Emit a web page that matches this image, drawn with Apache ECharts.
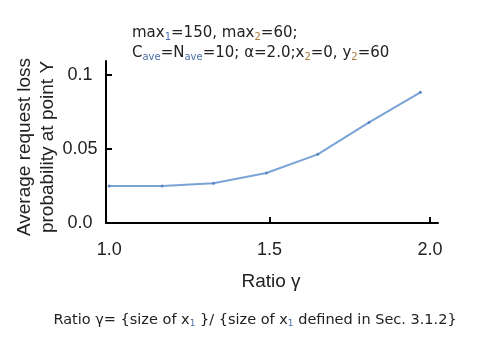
<!DOCTYPE html>
<html><head><meta charset="utf-8">
<script src="https://cdn.jsdelivr.net/npm/echarts@6/dist/echarts.min.js"></script>
<style>html,body{margin:0;padding:0;background:#fff}#c{width:490px;height:344px}</style>
</head><body><div id="c"></div>
<script>
const ratioX = [1.0, 1.165, 1.325, 1.49, 1.65, 1.81, 1.97];
const lossY = [0.025, 0.025, 0.0268, 0.0338, 0.0464, 0.068, 0.0883];
const xTicks = [1.0, 1.5, 2.0];
const yTicks = [0, 0.05, 0.1];
const yTickLabels = {0: '0.0', 0.05: '0.05', 0.1: '0.1'};

const chart = echarts.init(document.getElementById('c'), null, {renderer: 'canvas'});
const sansFont = '"Liberation Sans", Arial, sans-serif';
const wideFont = '"DejaVu Sans", sans-serif';
const subRich = {
  s: {fontSize: 10, fontFamily: wideFont, fill: '#4a6fa5', padding: [8, 0, 0, 0]},
  o: {fontSize: 10, fontFamily: wideFont, fill: '#b07a3a', padding: [8, 0, 0, 0]}
};
chart.setOption({
  animation: false,
  backgroundColor: '#fff',
  grid: {left: 106, top: 61, right: 52, bottom: 121},
  graphic: [
    {type: 'text', x: 132, y: 33, style: {
      fontSize: 15, fontFamily: wideFont, fill: '#222', textVerticalAlign: 'middle',
      rich: subRich,
      text: 'max{s|1}=150, max{o|2}=60;'
    }},
    {type: 'text', x: 132, y: 53, style: {
      fontSize: 15, fontFamily: wideFont, fill: '#222', textVerticalAlign: 'middle',
      rich: subRich,
      text: 'C{s|ave}=N{s|ave}=10; α=2.0;x{o|2}=0, y{o|2}=60'
    }},
    {type: 'text', x: 255, y: 320, style: {
      fontSize: 14.5, fontFamily: wideFont, fill: '#222', textAlign: 'center', textVerticalAlign: 'middle',
      rich: {s: {fontSize: 9, fontFamily: wideFont, fill: '#4a6fa5', padding: [8, 0, 0, 0]}},
      text: 'Ratio γ= {size of x{s|1} }/ {size of x{s|1} defined in Sec. 3.1.2}'
    }},
    {type: 'text', x: 271, y: 282, style: {
      text: 'Ratio γ', fontSize: 19, fontFamily: sansFont, fill: '#222', textAlign: 'center', textVerticalAlign: 'middle'
    }},
    {type: 'text', x: 36, y: 147, rotation: Math.PI / 2, style: {
      text: 'Average request loss\nprobability at point Y', fontSize: 19, lineHeight: 23,
      fontFamily: sansFont, fill: '#222', textAlign: 'center', textVerticalAlign: 'middle'
    }}
  ],
  xAxis: {
    type: 'value', min: 0.99, max: 2.025,
    axisLine: {lineStyle: {color: '#000', width: 2}},
    axisTick: {show: true, inside: true, length: 6, lineStyle: {color: '#000', width: 2}, customValues: [1.5, 2.0]},
    axisLabel: {customValues: xTicks, margin: 18, fontSize: 18, fontFamily: sansFont, color: '#222',
      formatter: v => v.toFixed(1)},
    splitLine: {show: false}
  },
  yAxis: {
    type: 'value', min: 0, max: 0.1095,
    axisLine: {show: true, lineStyle: {color: '#000', width: 2}},
    axisTick: {show: true, inside: true, length: 6, lineStyle: {color: '#000', width: 2}, customValues: [0.05, 0.1]},
    axisLabel: {customValues: yTicks, margin: 26, align: 'center', fontSize: 18, fontFamily: sansFont, color: '#222',
      padding: [4, 0, 0, 0],
      formatter: v => yTickLabels[v] !== undefined ? yTickLabels[v] : String(v)},
    splitLine: {show: false}
  },
  series: [{
    type: 'line',
    data: ratioX.map((x, i) => [x, lossY[i]]),
    symbol: 'circle', symbolSize: 3, showSymbol: true,
    lineStyle: {color: '#7aa3d6', width: 2},
    itemStyle: {color: '#5b86c2'}
  }]
});
</script></body></html>
